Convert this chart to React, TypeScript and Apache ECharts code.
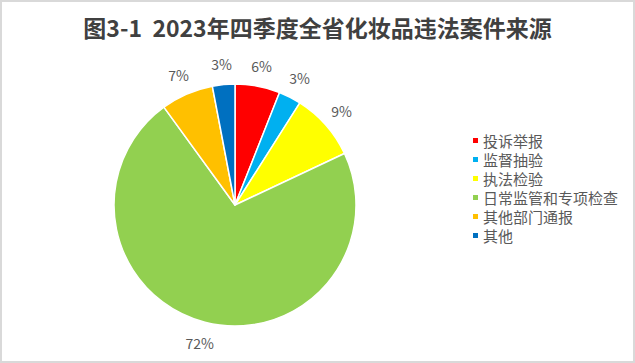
import React, { useEffect, useRef } from "react";
import * as echarts from "echarts";

const titleText = "图3-1  2023年四季度全省化妆品违法案件来源";
const categories = ["投诉举报", "监督抽验", "执法检验", "日常监管和专项检查", "其他部门通报", "其他"];
const values = [6, 3, 9, 72, 7, 3];
const colors = ["#FF0000", "#00B0F0", "#FFFF00", "#92D050", "#FFC000", "#0070C0"];

export default function App() {
  const ref = useRef<HTMLDivElement>(null);
  useEffect(() => {
    document.body.style.margin = "0";
    const chart = echarts.init(ref.current!, null, { renderer: "svg" });
    const font = "'Noto Sans CJK SC', sans-serif";
    chart.setOption({
      animation: false,
      backgroundColor: "#ffffff",
      title: {
        text: titleText,
        left: "center",
        top: 8,
        textStyle: {
          fontFamily: font,
          fontSize: 23,
          fontWeight: "bold",
          color: "#404040",
        },
      },
      legend: {
        orient: "vertical",
        left: 464,
        top: 126,
        itemWidth: 7,
        itemHeight: 7,
        itemGap: 4,
        icon: "rect",
        data: categories,
        textStyle: {
          fontFamily: font,
          fontSize: 15,
          lineHeight: 15,
          color: "#595959",
          padding: [0, 0, 0, -1],
        },
      },
      series: [
        {
          type: "pie",
          center: [233, 203],
          radius: 121,
          startAngle: 90,
          clockwise: true,
          itemStyle: { borderColor: "#ffffff", borderWidth: 1.5 },
          label: { show: false },
          labelLine: { show: false },
          emphasis: { disabled: true },
          silent: true,
          data: categories.map((name, i) => ({
            name,
            value: values[i],
            itemStyle: { color: colors[i] },
          })),
        },
        {
          type: "pie",
          center: [233, 203],
          radius: [122, 156],
          startAngle: 90,
          clockwise: true,
          silent: true,
          itemStyle: { color: "rgba(0,0,0,0)", borderWidth: 0 },
          label: {
            show: true,
            position: "inside",
            formatter: "{c}%",
            fontFamily: font,
            fontSize: 14,
            color: "#595959",
          },
          labelLine: { show: false },
          emphasis: { disabled: true },
          legendHoverLink: false,
          data: categories.map((name, i) => ({
            name: name + " ",
            value: values[i],
          })),
        },
      ],
    });
    return () => chart.dispose();
  }, []);
  return (
    <div
      style={{
        width: 635,
        height: 363,
        boxSizing: "border-box",
        border: "2px solid #D9D9D9",
        background: "#fff",
      }}
    >
      <div ref={ref} style={{ width: 631, height: 359 }} />
    </div>
  );
}
